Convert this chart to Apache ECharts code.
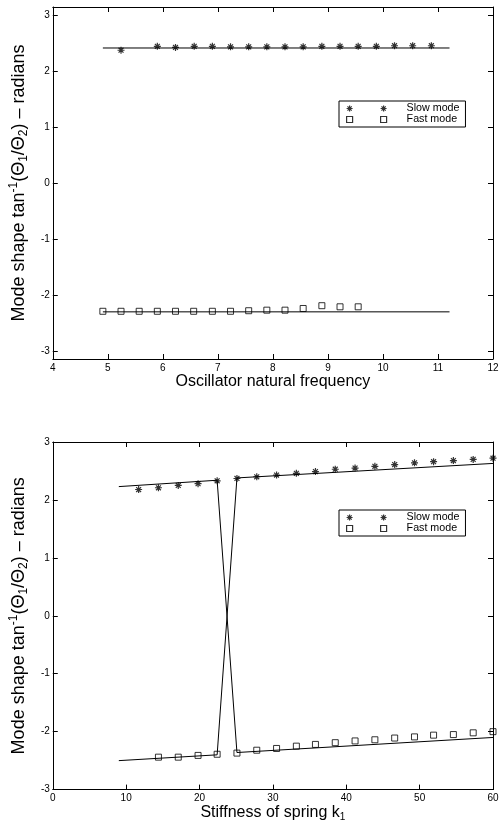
<!DOCTYPE html>
<html>
<head>
<meta charset="utf-8">
<script src="https://cdn.jsdelivr.net/npm/echarts@6/dist/echarts.min.js"></script>
<style>
html,body{margin:0;padding:0;background:#fff}
#main{width:502px;height:823px}
</style>
</head>
<body>
<div id="main"></div>
<script>
// top panel - mode shape against oscillator natural frequency
var slowX1=[5.24,5.90,6.23,6.57,6.90,7.23,7.56,7.89,8.22,8.55,8.89,9.22,9.55,9.88,10.21,10.54,10.88]
var slowY1=[2.37,2.44,2.42,2.44,2.44,2.43,2.43,2.43,2.43,2.43,2.44,2.44,2.44,2.44,2.45,2.45,2.45]
var fastX1=[4.91,5.24,5.57,5.90,6.23,6.56,6.90,7.23,7.56,7.89,8.22,8.55,8.89,9.22,9.55]
var fastY1=[-2.29,-2.29,-2.29,-2.29,-2.29,-2.29,-2.29,-2.29,-2.28,-2.27,-2.27,-2.24,-2.19,-2.21,-2.21]
var fitX1=[4.91,11.21]
var slowFitY1=[2.41,2.41]
var fastFitY1=[-2.30,-2.30]
var xTicks1=[4,5,6,7,8,9,10,11,12]
var yTicks=[-3,-2,-1,0,1,2,3]

// bottom panel - mode shape against spring stiffness k1
var slowX2=[11.7,14.4,17.1,19.8,22.4,25.1,27.8,30.5,33.2,35.8,38.5,41.2,43.9,46.6,49.3,51.9,54.6,57.3,60.0]
var slowY2=[2.18,2.21,2.25,2.28,2.33,2.37,2.40,2.43,2.46,2.49,2.53,2.55,2.58,2.61,2.64,2.66,2.68,2.70,2.72]
var fastX2=[14.4,17.1,19.8,22.4,25.1,27.8,30.5,33.2,35.8,38.5,41.2,43.9,46.6,49.3,51.9,54.6,57.3,60.0]
var fastY2=[-2.44,-2.44,-2.41,-2.39,-2.37,-2.32,-2.29,-2.25,-2.22,-2.19,-2.16,-2.14,-2.11,-2.09,-2.06,-2.05,-2.02,-2.00]
var fitX2=[9.0,22.4,25.1,60.0]
var fitAY2=[2.23,2.34,-2.36,-2.10]
var fitBY2=[-2.50,-2.40,2.38,2.63]

function pairs(xs,ys){
	var out=[]
	for(var i=0;i<xs.length;i++){out.push([xs[i],ys[i]])}
	return out
}

var FONT='Liberation Sans'
var STAR='path://M3,0L3,6M0,3L6,3M0.9,0.9L5.1,5.1M0.9,5.1L5.1,0.9'
var STAR2='path://M3,0L3,6M0,3L6,3M0.9,0.9L5.1,5.1M0.9,5.1L5.1,0.9M37,0L37,6M34,3L40,3M34.9,0.9L39.1,5.1M34.9,5.1L39.1,0.9'
var SQUARE2='path://M0,0L6,0L6,6L0,6ZM34,0L40,0L40,6L34,6Z'

var yName='{t|Mode shape tan}{sup|-1}{t|(\u0398}{sub|1}{t|/\u0398}{sub|2}{t|) \u2013 radians}'
var nameRich={
	t:{fontSize:18,lineHeight:22,fontFamily:FONT,color:'#000'},
	sup:{fontSize:12,lineHeight:8,verticalAlign:'top',fontFamily:FONT,color:'#000'},
	sub:{fontSize:12,lineHeight:8,verticalAlign:'bottom',fontFamily:FONT,color:'#000'}
}
var xRich={
	t:{fontSize:16,lineHeight:19,fontFamily:FONT,color:'#000'},
	sub:{fontSize:10,lineHeight:6,verticalAlign:'bottom',fontFamily:FONT,color:'#000'}
}

function baseAxis(extra){
	var a={
		type:'value',
		axisLine:{show:true,onZero:false,lineStyle:{color:'#000',width:1}},
		axisTick:{show:true,inside:true,length:5,lineStyle:{color:'#000',width:1}},
		axisLabel:{show:true,color:'#000',fontSize:10,fontFamily:FONT,margin:4},
		splitLine:{show:false}
	}
	for(var k in extra){a[k]=extra[k]}
	return a
}

function legendAt(top){
	return {
		left:339,top:top,orient:'vertical',
		padding:[2,6,2,7],itemGap:0,
		itemWidth:40,itemHeight:6,
		borderColor:'#000',borderWidth:1,backgroundColor:'#fff',
		selectedMode:false,
		itemStyle:{borderColor:'#000',borderWidth:1.2},
		textStyle:{color:'#000',fontSize:10.7,fontFamily:FONT,lineHeight:11,padding:[0,0,0,15]},
		data:[
			{name:'Slow mode',icon:STAR2,itemStyle:{color:'#000'}},
			{name:'Fast mode',icon:SQUARE2,itemStyle:{color:'rgba(0,0,0,0)'}}
		]
	}
}

var chart=echarts.init(document.getElementById('main'),null,{renderer:'canvas'})

var option={
	animation:false,
	backgroundColor:'#fff',
	textStyle:{fontFamily:FONT},
	grid:[
		{left:46,top:7,width:447,height:352},
		{left:46,top:442,width:447,height:351}
	],
	legend:[legendAt(101),legendAt(510)],
	xAxis:[
		baseAxis({gridIndex:0,position:'bottom',min:4,max:12,interval:1,
			name:'{t|Oscillator natural frequency}',nameLocation:'middle',nameGap:12,
			nameTextStyle:{rich:xRich}}),
		baseAxis({gridIndex:0,position:'top',min:4,max:12,interval:1,axisLabel:{show:false}}),
		baseAxis({gridIndex:1,position:'bottom',min:0,max:60,interval:10,
			name:'{t|Stiffness of spring k}{sub|1}',nameLocation:'middle',nameGap:12,
			nameTextStyle:{rich:xRich}}),
		baseAxis({gridIndex:1,position:'top',min:0,max:60,interval:10,axisLabel:{show:false}})
	],
	yAxis:[
		baseAxis({gridIndex:0,position:'left',min:-Math.PI,max:Math.PI,
			axisTick:{show:true,inside:true,length:5,customValues:yTicks,lineStyle:{color:'#000'}},
			axisLabel:{show:true,color:'#000',fontSize:10,fontFamily:FONT,margin:3,customValues:yTicks},
			name:yName,nameLocation:'middle',nameRotate:90,nameGap:11,
			nameTextStyle:{rich:nameRich}}),
		baseAxis({gridIndex:0,position:'right',min:-Math.PI,max:Math.PI,
			axisTick:{show:true,inside:true,length:5,customValues:yTicks,lineStyle:{color:'#000'}},
			axisLabel:{show:false}}),
		baseAxis({gridIndex:1,position:'left',min:-3,max:3,interval:1,
			axisLabel:{show:true,color:'#000',fontSize:10,fontFamily:FONT,margin:3},
			name:yName,nameLocation:'middle',nameRotate:90,nameGap:11,
			nameTextStyle:{rich:nameRich}}),
		baseAxis({gridIndex:1,position:'right',min:-3,max:3,interval:1,axisLabel:{show:false}})
	],
	series:[
		{name:'fit slow 1',type:'line',xAxisIndex:0,yAxisIndex:0,data:pairs(fitX1,slowFitY1),
			symbol:'none',silent:true,lineStyle:{color:'#000',width:1}},
		{name:'fit fast 1',type:'line',xAxisIndex:0,yAxisIndex:0,data:pairs(fitX1,fastFitY1),
			symbol:'none',silent:true,lineStyle:{color:'#000',width:1}},
		{name:'Slow mode',type:'scatter',xAxisIndex:0,yAxisIndex:0,data:pairs(slowX1,slowY1),
			symbol:STAR,symbolSize:7,symbolKeepAspect:true,clip:false,silent:true,
			itemStyle:{color:'#000',borderColor:'#000',borderWidth:1.2}},
		{name:'Fast mode',type:'scatter',xAxisIndex:0,yAxisIndex:0,data:pairs(fastX1,fastY1),
			symbol:'rect',symbolSize:6,clip:false,silent:true,
			itemStyle:{color:'rgba(0,0,0,0)',borderColor:'#000',borderWidth:1}},

		{name:'fit A 2',type:'line',xAxisIndex:2,yAxisIndex:2,data:pairs(fitX2,fitAY2),
			symbol:'none',silent:true,lineStyle:{color:'#000',width:1}},
		{name:'fit B 2',type:'line',xAxisIndex:2,yAxisIndex:2,data:pairs(fitX2,fitBY2),
			symbol:'none',silent:true,lineStyle:{color:'#000',width:1}},
		{name:'Slow mode',type:'scatter',xAxisIndex:2,yAxisIndex:2,data:pairs(slowX2,slowY2),
			symbol:STAR,symbolSize:7,symbolKeepAspect:true,clip:false,silent:true,
			itemStyle:{color:'#000',borderColor:'#000',borderWidth:1.2}},
		{name:'Fast mode',type:'scatter',xAxisIndex:2,yAxisIndex:2,data:pairs(fastX2,fastY2),
			symbol:'rect',symbolSize:6,clip:false,silent:true,
			itemStyle:{color:'rgba(0,0,0,0)',borderColor:'#000',borderWidth:1}}
	]
}

chart.setOption(option)
</script>
</body>
</html>
